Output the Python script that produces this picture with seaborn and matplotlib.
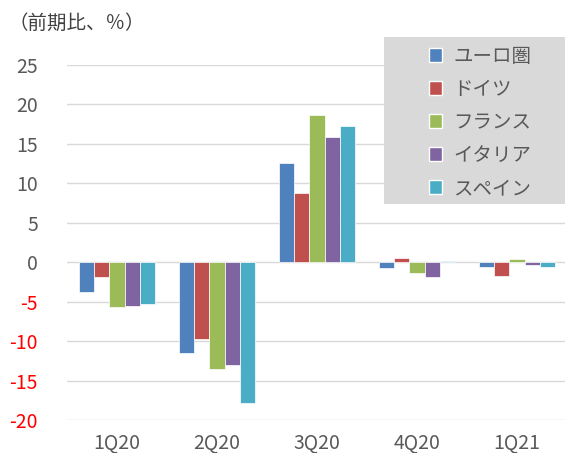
import numpy as np
import pandas as pd
import matplotlib
matplotlib.use('Agg')
import matplotlib.pyplot as plt
import seaborn as sns
from matplotlib.patches import Rectangle

# データ
quarters = ['1Q20', '2Q20', '3Q20', '4Q20', '1Q21']
regions = ['ユーロ圏', 'ドイツ', 'フランス', 'イタリア', 'スペイン']
euro = [-3.8, -11.5, 12.6, -0.7, -0.6]
germany = [-1.9, -9.7, 8.8, 0.5, -1.7]
france = [-5.7, -13.6, 18.6, -1.4, 0.4]
italy = [-5.5, -13.0, 15.9, -1.9, -0.4]
spain = [-5.3, -17.8, 17.2, 0.1, -0.6]
colors = ['#4F81BD', '#C0504D', '#9BBB59', '#8064A2', '#4BACC6']

df = pd.DataFrame({
    'quarter': np.tile(quarters, len(regions)),
    'region': np.repeat(regions, len(quarters)),
    'value': euro + germany + france + italy + spain,
})

sns.set_style('white')
plt.rcParams['font.family'] = ['Noto Sans CJK JP', 'DejaVu Sans']
plt.rcParams['axes.unicode_minus'] = False

fig = plt.figure(figsize=(5.65, 4.53), dpi=100)
ax = fig.add_axes([67 / 565, 33 / 453, 500 / 565, 355.3 / 453])

sns.barplot(data=df, x='quarter', y='value', hue='region', order=quarters,
            hue_order=regions, palette=colors, width=0.76, ax=ax,
            edgecolor='white', linewidth=0.5, saturation=1, legend=False)

ax.set_ylim(-20, 25)
ax.set_yticks(np.arange(-20, 26, 5))
ax.set_xlim(-0.5, 4.5)
ax.yaxis.grid(True, color='#d9d9d9', linewidth=1)
ax.set_axisbelow(True)
for s in ax.spines.values():
    s.set_visible(False)
ax.set_xlabel('')
ax.set_ylabel('')
ax.tick_params(axis='both', colors='#595959', labelsize=14, length=0)
ax.tick_params(axis='y', pad=21)
ax.tick_params(axis='x', pad=9)
# マイナスの目盛りは赤
for lab, v in zip(ax.get_yticklabels(), ax.get_yticks()):
    if v < 0:
        lab.set_color('#FF0000')

fig.text(8 / 565, 1 - 23 / 453, '（前期比、％）', fontsize=14, color='#404040',
         va='center', ha='left')

# 凡例
box = Rectangle((384 / 565, 1 - 204 / 453), 185 / 565, 167 / 453,
                transform=fig.transFigure, facecolor='#d9d9d9', edgecolor='none',
                zorder=3, clip_on=False)
ax.add_patch(box)
handles = [Rectangle((0, 0), 1, 1, facecolor=c) for c in colors]
leg = ax.legend(handles, regions, loc='upper left',
                bbox_to_anchor=(419 / 565, 1 - 36 / 453), bbox_transform=fig.transFigure,
                frameon=False, fontsize=14, handlelength=0.7, handleheight=0.7,
                handletextpad=0.55, labelspacing=0.62, borderpad=0)
leg.set_zorder(4)
for t in leg.get_texts():
    t.set_color('#595959')

plt.savefig('out.png', dpi=100)
